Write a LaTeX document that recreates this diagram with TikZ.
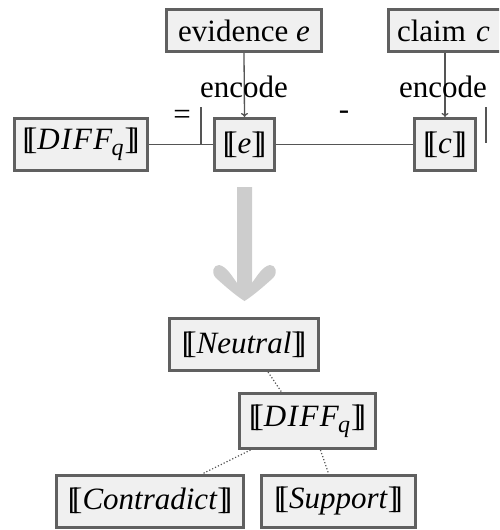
\documentclass[tikz,border=0pt]{standalone}
\usepackage{fontspec}
\setmainfont{Liberation Serif}
\newfontfamily\termfont{Liberation Serif}
\usetikzlibrary{arrows.meta}
\definecolor{boxfill}{HTML}{F0F0F0}
\definecolor{boxline}{HTML}{606060}
\definecolor{wire}{HTML}{555555}
\definecolor{bigarrow}{HTML}{CDCDCD}
% semantic double brackets built from two overlapping square brackets
\newcommand{\sem}[1]{[\kern-0.19em[#1]\kern-0.19em]}
% spaced italic DIFF with a subscript q
\newcommand{\diffq}{\textit{D\kern1.5pt I\kern1.5pt F\kern1.5pt F}\kern-1pt\raisebox{-6pt}{\fontsize{24}{26}\selectfont\textit{q}}\kern1pt}
\begin{document}
\begin{tikzpicture}[x=1pt,y=-1pt,
  every node/.style={font=\termfont\fontsize{31}{36}\selectfont, text=black},
  termbox/.style={draw=boxline, fill=boxfill, line width=3pt,
    inner sep=0pt, align=center},
  wireline/.style={draw=wire, line width=1.3pt},
  encarrow/.style={wireline, -{To[length=4pt,width=7pt]}},
  dotlink/.style={draw=wire, line width=1.2pt, dotted}]
\clip (0,0) rectangle (499,530);

% inputs
\node[termbox, minimum width=155pt, minimum height=42pt] (ev) at (244,30.5) {evidence \textit{e}};
\node[termbox, minimum width=118pt, minimum height=42pt, text width=118pt, align=left] (cl) at (447,30.5) {\hspace{9pt}claim \textit{c}};

% encoded terms
\node[termbox, minimum width=60pt, minimum height=52pt] (e) at (244.5,144.5) {\sem{\textit{e}}};
\node[termbox, minimum width=61pt, minimum height=52pt] (c) at (445,144.5) {\sem{\textit{c}}};
\node[termbox, minimum width=133pt, minimum height=52pt] (d) at (81,144.5) {\sem{\diffq}};

\draw[encarrow] (ev.south) -- (e.north);
\draw[encarrow] (cl.south -| c.north) -- (c.north);
\node (enc1) at (244,87) {encode};
\node (enc2) at (443,87) {encode};

% difference equation wires
\coordinate (eqtick) at (201,107);
\coordinate (eqjoin) at (201,144.5);
\draw[wireline] (d.east) -- (e.west);
\draw[wireline] (eqtick) -- (eqjoin);
\draw[wireline] (e.east) -- (c.west);
\coordinate (bartop) at (486,107);
\coordinate (barbot) at (486,143);
\draw[wireline] (bartop) -- (barbot);
\node (eq) at (182,117) {=};
\node (minus) at (344,115) {-};

% transition arrow
\fill[bigarrow] (237,187) -- (237,283)
  .. controls (232,276) and (226,266) .. (219,265)
  .. controls (213,265) and (211,273) .. (216,278)
  .. controls (228,289) and (238,297) .. (244.5,301)
  .. controls (251,297) and (261,289) .. (273,278)
  .. controls (278,273) and (276,265) .. (270,265)
  .. controls (263,266) and (257,276) .. (252,283)
  -- (252,187) -- cycle;

% result hierarchy
\node[termbox, minimum width=149pt, minimum height=52pt] (neu) at (244,344.5) {\sem{\textit{Neutral}}};
\node[termbox, minimum width=136pt, minimum height=55pt] (d2) at (307.5,421) {\sem{\diffq}};
\node[termbox, minimum width=187pt, minimum height=52pt] (con) at (150,501) {\sem{\textit{Contradict}}};
\node[termbox, minimum width=154pt, minimum height=52pt] (sup) at (338.5,501) {\sem{\textit{Support}}};

\draw[dotlink] ([xshift=24pt]neu.south) -- ([xshift=-26pt]d2.north);
\draw[dotlink] ([xshift=-57pt]d2.south) -- ([xshift=53pt]con.north);
\draw[dotlink] ([xshift=13pt]d2.south) -- ([xshift=-10pt]sup.north);
\end{tikzpicture}
\end{document}
